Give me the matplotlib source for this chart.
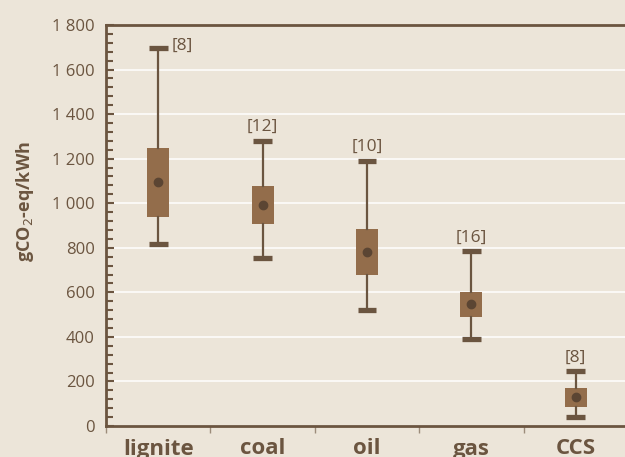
import matplotlib
matplotlib.use("Agg")
import matplotlib.pyplot as plt
from matplotlib.ticker import FuncFormatter, MultipleLocator

# Data (gCO2-eq/kWh)
categories = ["lignite", "coal", "oil", "gas", "CCS"]
whis_low = [815, 755, 520, 390, 40]
q1 = [940, 907, 678, 490, 85]
median = [1095, 992, 781, 548, 130]
q3 = [1250, 1077, 884, 601, 171]
whis_high = [1695, 1280, 1190, 785, 247]
n_studies = ["[8]", "[12]", "[10]", "[16]", "[8]"]

bg = "#ece5d9"
brown = "#6b5540"
box_fill = "#936d4b"
dot = "#5b4533"

plt.rcParams['font.family'] = ['Open Sans', 'DejaVu Sans']

fig = plt.figure(figsize=(6.25, 4.57), dpi=100, facecolor=bg)
ax = fig.add_axes([106 / 625, 1 - 426 / 457, 522 / 625, 401 / 457])
ax.set_facecolor(bg)

stats = []
for i, c in enumerate(categories):
    stats.append(dict(label=c, whislo=whis_low[i], q1=q1[i], med=median[i],
                      q3=q3[i], whishi=whis_high[i], fliers=[]))

pos = list(range(len(categories)))
ax.bxp(stats, positions=pos, widths=0.21, capwidths=0.18, patch_artist=True,
       showfliers=False,
       boxprops=dict(facecolor=box_fill, edgecolor=box_fill, linewidth=0),
       whiskerprops=dict(color=brown, linewidth=1.6),
       capprops=dict(color=brown, linewidth=3.8, solid_capstyle='butt'),
       medianprops=dict(linewidth=0, color=box_fill))
ax.plot(pos, median, 'o', color=dot, markersize=6, zorder=5)

# study counts
ax.text(pos[0] + 0.13, whis_high[0] + 10, n_studies[0], ha='left', va='center',
        color=brown, fontsize=12.5)
for i in range(1, len(categories)):
    ax.text(pos[i], whis_high[i] + 25, n_studies[i], ha='center', va='bottom',
            color=brown, fontsize=12.5)

ax.set_xlim(-0.5, 4.5)
ax.set_ylim(0, 1800)
ax.yaxis.set_major_locator(MultipleLocator(200))
ax.yaxis.set_minor_locator(MultipleLocator(40))
ax.yaxis.set_major_formatter(FuncFormatter(lambda v, p: f"{int(v):,}".replace(",", " ")))
ax.grid(axis='y', color='white', linewidth=1.2, alpha=0.9)
ax.set_axisbelow(True)

ax.tick_params(axis='y', which='both', direction='in', color=brown, width=1.5,
               labelcolor=brown, labelsize=12, pad=8)
ax.tick_params(axis='y', which='major', length=6)
ax.tick_params(axis='y', which='minor', length=5)

ax.set_xticks([p - 0.5 for p in pos])
ax.set_xticks(pos, minor=True)
ax.set_xticklabels([])
ax.set_xticklabels(categories, minor=True, fontweight='bold', fontsize=16)
ax.tick_params(axis='x', which='major', direction='out', length=5, color='#9c8c7a', width=1)
ax.tick_params(axis='x', which='minor', length=0, labelcolor=brown, pad=9)

for s in ['left', 'top', 'bottom']:
    ax.spines[s].set_color(brown)
    ax.spines[s].set_linewidth(2)
ax.spines['right'].set_visible(False)

fig.text(25 / 625, 1 - 202 / 457, "gCO$_2$-eq/kWh", rotation=90, ha='center',
         va='center', color=brown, fontsize=13, fontweight='bold')

fig.savefig("out.png", dpi=100, facecolor=bg)
